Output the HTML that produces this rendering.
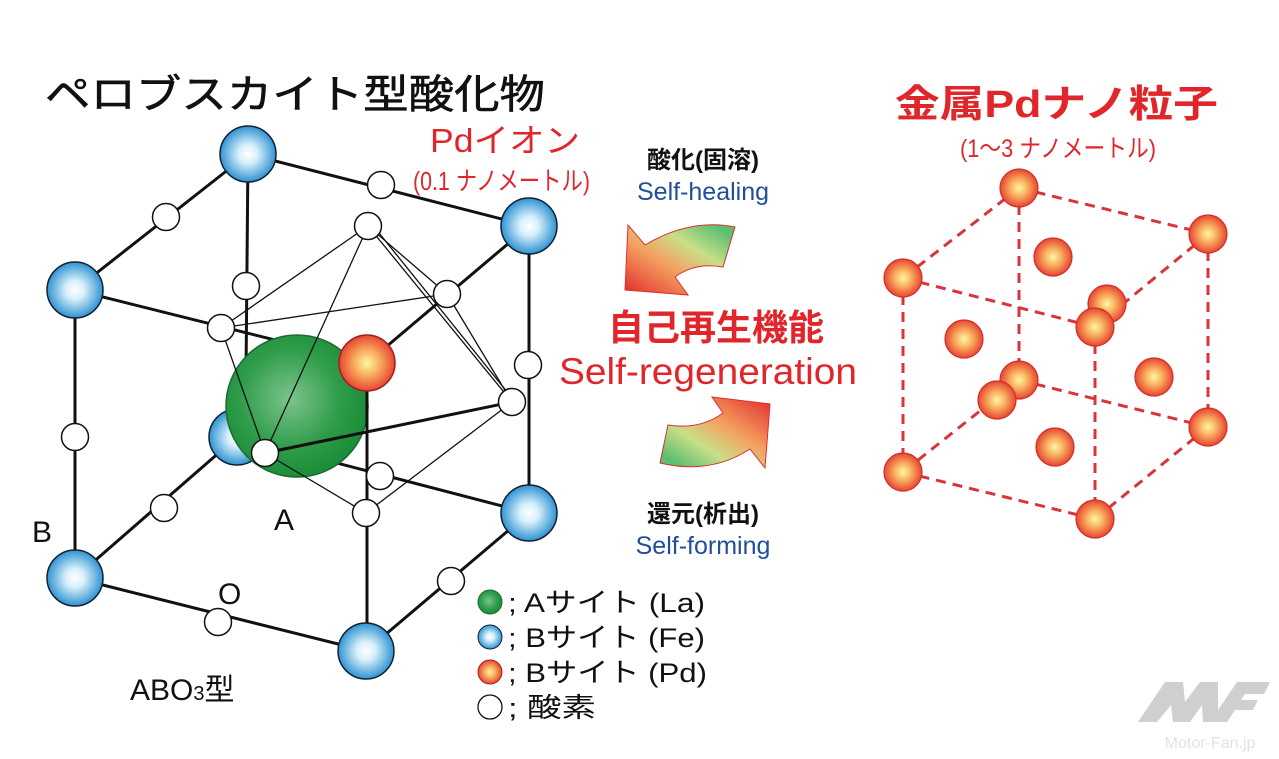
<!DOCTYPE html>
<html><head><meta charset="utf-8"><style>
html,body{margin:0;padding:0;background:#fff;width:1279px;height:759px;overflow:hidden}
svg{display:block}
text{font-family:"Liberation Sans","Noto Sans CJK JP",sans-serif}
</style></head><body>
<svg width="1279" height="759" viewBox="0 0 1279 759" xmlns="http://www.w3.org/2000/svg">
<defs>
<radialGradient id="gb" cx="0.5" cy="0.5" r="0.55"><stop offset="0" stop-color="#fff"/><stop offset="0.3" stop-color="#d8f0fb"/><stop offset="1" stop-color="#1585cc"/></radialGradient>
<radialGradient id="gr" cx="0.5" cy="0.5" r="0.55"><stop offset="0" stop-color="#fff7a0"/><stop offset="0.4" stop-color="#f8b060"/><stop offset="1" stop-color="#e5322a"/></radialGradient>
<radialGradient id="gg" cx="0.45" cy="0.45" r="0.6"><stop offset="0" stop-color="#7cc48c"/><stop offset="0.6" stop-color="#2e9b48"/><stop offset="1" stop-color="#178a35"/></radialGradient>
<linearGradient id="a1" x1="1" y1="0" x2="0" y2="1"><stop offset="0.1" stop-color="#5cbf72"/><stop offset="0.35" stop-color="#c8df88"/><stop offset="0.6" stop-color="#f4a060"/><stop offset="1" stop-color="#e02a2a"/></linearGradient>
<linearGradient id="a2" x1="0" y1="1" x2="1" y2="0"><stop offset="0.1" stop-color="#5cbf72"/><stop offset="0.35" stop-color="#c8df88"/><stop offset="0.6" stop-color="#f4a060"/><stop offset="1" stop-color="#e02a2a"/></linearGradient>
</defs>

<text x="45" y="108" font-size="40" fill="#111" stroke="#111" stroke-width="0.6" textLength="500" lengthAdjust="spacingAndGlyphs">ペロブスカイト型酸化物</text>
<text x="430" y="152" font-size="33" fill="#e0262b" textLength="150" lengthAdjust="spacingAndGlyphs">Pdイオン</text>
<text x="413" y="190" font-size="26" fill="#e0262b" textLength="177" lengthAdjust="spacingAndGlyphs">(0.1 ナノメートル)</text>

<g stroke="#111" stroke-width="3" fill="none">
<line x1="248" y1="154" x2="75" y2="290"/>
<line x1="248" y1="154" x2="529" y2="226"/>
<line x1="248" y1="154" x2="246" y2="375"/>
<line x1="75" y1="290" x2="367" y2="363"/>
<line x1="529" y1="226" x2="367" y2="363"/>
<line x1="529" y1="226" x2="529" y2="513"/>
<line x1="75" y1="290" x2="75" y2="578"/>
<line x1="75" y1="578" x2="237" y2="437"/>
<line x1="237" y1="437" x2="529" y2="513"/>
<line x1="75" y1="578" x2="366" y2="651"/>
<line x1="366" y1="651" x2="529" y2="513"/>
</g>
<circle cx="237" cy="437" r="28" fill="url(#gb)" stroke="#123" stroke-width="1.5"/>
<circle cx="297" cy="406" r="71" fill="url(#gg)" stroke="#1a6a30" stroke-width="1.5"/>
<g stroke="#111" stroke-width="3">
<line x1="367" y1="363" x2="367" y2="651"/>
<line x1="265" y1="453" x2="512" y2="402"/>
</g>
<g stroke="#111" stroke-width="1.3" fill="none">
<line x1="368" y1="226" x2="221" y2="328"/>
<line x1="368" y1="226" x2="447" y2="294"/>
<line x1="368" y1="226" x2="512" y2="402"/>
<line x1="375" y1="228" x2="512" y2="398"/>
<line x1="368" y1="226" x2="265" y2="453"/>
<line x1="221" y1="328" x2="447" y2="294"/>
<line x1="221" y1="328" x2="265" y2="453"/>
<line x1="447" y1="294" x2="512" y2="402"/>
<line x1="265" y1="453" x2="366" y2="513"/>
<line x1="366" y1="513" x2="512" y2="402"/>
</g>
<circle cx="367" cy="363" r="28" fill="url(#gr)" stroke="#a02020" stroke-width="1.5"/>
<g fill="url(#gb)" stroke="#123" stroke-width="1.5">
<circle cx="248" cy="154" r="28"/><circle cx="529" cy="226" r="28"/><circle cx="75" cy="290" r="28"/>
<circle cx="529" cy="513" r="28"/><circle cx="75" cy="578" r="28"/><circle cx="366" cy="651" r="28"/>
</g>
<g fill="#fff" stroke="#111" stroke-width="1.5">
<circle cx="166" cy="217" r="13.5"/><circle cx="381" cy="185" r="13.5"/><circle cx="246" cy="286" r="13.5"/>
<circle cx="368" cy="226" r="13.5"/><circle cx="447" cy="294" r="13.5"/><circle cx="221" cy="328" r="13.5"/>
<circle cx="528" cy="365" r="13.5"/><circle cx="512" cy="402" r="13.5"/><circle cx="75" cy="437" r="13.5"/>
<circle cx="265" cy="453" r="13.5"/><circle cx="380" cy="476" r="13.5"/><circle cx="164" cy="508" r="13.5"/>
<circle cx="366" cy="513" r="13.5"/><circle cx="451" cy="581" r="13.5"/><circle cx="218" cy="622" r="13.5"/>
</g>
<g font-size="30" fill="#111">
<text x="274" y="530">A</text><text x="32" y="542">B</text><text x="218" y="604">O</text>
<text x="130" y="700">ABO<tspan font-size="20">3</tspan>型</text>
</g>

<circle cx="490" cy="602" r="12" fill="url(#gg)" stroke="#1a6a30"/>
<circle cx="490" cy="637" r="12" fill="url(#gb)" stroke="#123"/>
<circle cx="490" cy="672" r="12" fill="url(#gr)" stroke="#a02020"/>
<circle cx="490" cy="707" r="12" fill="#fff" stroke="#111" stroke-width="1.3"/>
<g font-size="27" fill="#111">
<text x="508" y="612" textLength="197" lengthAdjust="spacingAndGlyphs">; Aサイト (La)</text>
<text x="508" y="647" textLength="197" lengthAdjust="spacingAndGlyphs">; Bサイト (Fe)</text>
<text x="508" y="682" textLength="199" lengthAdjust="spacingAndGlyphs">; Bサイト (Pd)</text>
<text x="508" y="717" textLength="88" lengthAdjust="spacingAndGlyphs">; 酸素</text>
</g>

<g text-anchor="middle">
<text x="703" y="168" font-size="24" font-weight="bold" fill="#111">酸化(固溶)</text>
<text x="703" y="200" font-size="25" fill="#1f4e9a">Self-healing</text>
<text x="716" y="340" font-size="36" font-weight="bold" fill="#e0262b">自己再生機能</text>
<text x="708" y="384" font-size="37" fill="#e0262b" textLength="298" lengthAdjust="spacingAndGlyphs">Self-regeneration</text>
<text x="703" y="522" font-size="24" font-weight="bold" fill="#111">還元(析出)</text>
<text x="703" y="554" font-size="25" fill="#1f4e9a">Self-forming</text>
</g>
<path d="M628,225 L645,245 Q690,218 735,227 L723,267 Q695,262 675,277 L688,295 L625,290 Z" fill="url(#a1)" stroke="#d83030" stroke-width="1"/>
<path d="M770,404 L765,468 L750,449 Q710,475 660,463 L668,425 Q700,430 723,413 L712,397 Z" fill="url(#a2)" stroke="#d83030" stroke-width="1"/>

<text x="895" y="117" font-size="38" font-weight="bold" fill="#e0262b" textLength="323" lengthAdjust="spacingAndGlyphs">金属Pdナノ粒子</text>
<text x="960" y="157" font-size="25" fill="#e0262b" textLength="196" lengthAdjust="spacingAndGlyphs">(1〜3 ナノメートル)</text>
<g stroke="#d8343a" stroke-width="3" stroke-dasharray="10,7" fill="none">
<line x1="1019" y1="188" x2="903" y2="278"/>
<line x1="1019" y1="188" x2="1208" y2="234"/>
<line x1="1019" y1="188" x2="1019" y2="380"/>
<line x1="903" y1="278" x2="1095" y2="327"/>
<line x1="1208" y1="234" x2="1095" y2="327"/>
<line x1="903" y1="278" x2="903" y2="472"/>
<line x1="1208" y1="234" x2="1208" y2="427"/>
<line x1="1095" y1="327" x2="1095" y2="519"/>
<line x1="903" y1="472" x2="1095" y2="519"/>
<line x1="1095" y1="519" x2="1208" y2="427"/>
<line x1="1019" y1="380" x2="903" y2="472"/>
<line x1="1019" y1="380" x2="1208" y2="427"/>
</g>
<g fill="url(#gr)" stroke="#d0302a" stroke-width="1.2">
<circle cx="1053" cy="257" r="19"/><circle cx="964" cy="339" r="19"/><circle cx="1154" cy="377" r="19"/>
<circle cx="1055" cy="447" r="19"/><circle cx="1107" cy="304" r="19"/><circle cx="1019" cy="380" r="19"/>
<circle cx="1019" cy="188" r="19"/><circle cx="1208" cy="234" r="19"/><circle cx="903" cy="278" r="19"/>
<circle cx="1095" cy="327" r="19"/><circle cx="997" cy="400" r="19"/><circle cx="903" cy="472" r="19"/>
<circle cx="1208" cy="427" r="19"/><circle cx="1095" cy="519" r="19"/>
</g>

<g fill="#cfcfcf">
<path d="M1138,722 L1165,682 L1183,682 L1185,702 L1200,682 L1218,682 L1218,722 L1203,722 L1202,705 L1190,722 L1173,722 L1171,705 L1157,722 Z"/>
<path d="M1210,722 L1237,682 L1270,682 L1264,694 L1245,694 L1241,700 L1258,700 L1253,710 L1235,710 L1227,722 Z"/>
</g>
<text x="1210" y="748" font-size="16" fill="#e2e2e2" text-anchor="middle">Motor-Fan.jp</text>
</svg>
</body></html>
